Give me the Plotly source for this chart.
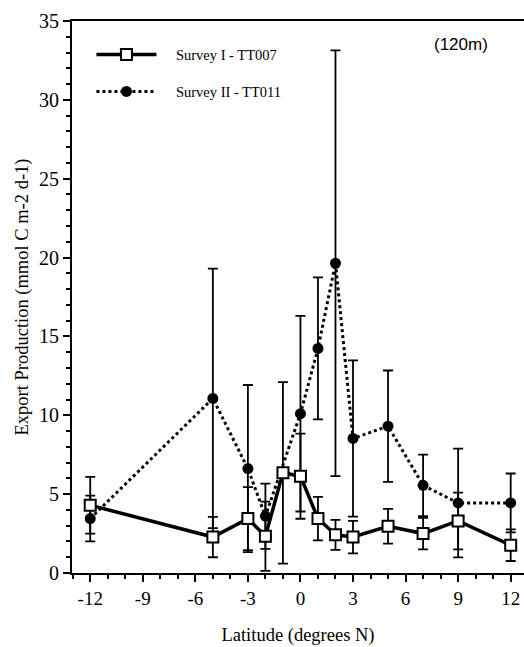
import plotly.graph_objects as go

lat = [-12, -5, -3, -2, -1, 0, 1, 2, 3, 5, 7, 9, 12]
s1_vals = [4.3, 2.28, 3.45, 2.33, 6.35, 6.14, 3.45, 2.42, 2.28, 2.96, 2.5, 3.3, 1.76]
s1_err = [1.8, 1.28, 2.0, 2.2, 5.75, 2.7, 1.38, 0.95, 1.03, 1.1, 1.0, 1.8, 1.0]

lat2 = [-12, -5, -3, -2, 0, 1, 2, 3, 5, 7, 9, 12]
s2_vals = [3.45, 11.07, 6.62, 3.6, 10.1, 14.24, 19.64, 8.53, 9.31, 5.56, 4.44, 4.44]
s2_err = [1.45, 8.23, 5.3, 2.07, 6.2, 4.5, 13.5, 4.95, 3.53, 1.95, 3.45, 1.87]

x_ticks = [-12, -9, -6, -3, 0, 3, 6, 9, 12]
y_ticks = [0, 5, 10, 15, 20, 25, 30, 35]

serif = "Liberation Serif, Times New Roman, serif"
pad = "\u00a0" * 4

fig = go.Figure()
fig.add_trace(go.Scatter(
    x=lat2, y=s2_vals, name=pad + "Survey II - TT011", mode="lines+markers",
    legendgroup="b", legendrank=2,
    line=dict(color="black", width=3, dash="dot"),
    marker=dict(symbol="circle", size=11, color="black"),
    error_y=dict(type="data", array=s2_err, color="black", thickness=1.8, width=5),
))
fig.add_trace(go.Scatter(
    x=lat, y=s1_vals, name=pad + "Survey I - TT007", mode="lines+markers",
    legendgroup="a", legendrank=1,
    line=dict(color="black", width=3.5),
    marker=dict(symbol="square", size=11, color="white", line=dict(color="black", width=2)),
    error_y=dict(type="data", array=s1_err, color="black", thickness=1.8, width=5),
))

fig.update_layout(
    width=524, height=647,
    margin=dict(l=72, r=0, t=21, b=74),
    paper_bgcolor="white", plot_bgcolor="white",
    font=dict(family=serif, color="black", size=16),
    showlegend=True,
    legend=dict(x=0.043, y=0.968, xanchor="left", yanchor="top", traceorder="grouped",
                font=dict(size=14.5, family=serif), bgcolor="rgba(0,0,0,0)",
                itemwidth=60, tracegroupgap=15),
    annotations=[dict(text="(120m)", x=0.86, y=0.979, xref="paper", yref="paper",
                      showarrow=False, xanchor="center", yanchor="top",
                      font=dict(family="Liberation Sans, Arial, sans-serif", size=17, color="black"))],
)
fig.update_xaxes(
    range=[-13.04, 12.76], tickvals=x_ticks, ticktext=[str(v) for v in x_ticks],
    showline=True, linecolor="black", linewidth=2, mirror=True,
    ticks="outside", ticklen=7, tickwidth=2, tickcolor="black",
    minor=dict(dtick=1, tick0=0, ticks="outside", ticklen=4, tickwidth=2, tickcolor="black"),
    showgrid=False, zeroline=False,
    tickfont=dict(size=19),
    title=dict(text="Latitude (degrees N)", font=dict(size=18.5), standoff=20),
)
fig.update_yaxes(
    range=[0, 35], tickvals=y_ticks,
    showline=True, linecolor="black", linewidth=2,
    ticks="outside", ticklen=7, tickwidth=2, tickcolor="black",
    minor=dict(dtick=1, tick0=0, ticks="outside", ticklen=4, tickwidth=2, tickcolor="black"),
    showgrid=False, zeroline=False,
    tickfont=dict(size=20),
    title=dict(text="Export Production (mmol C m-2 d-1)", font=dict(size=18.5), standoff=6),
)

fig.write_html("out.html")
